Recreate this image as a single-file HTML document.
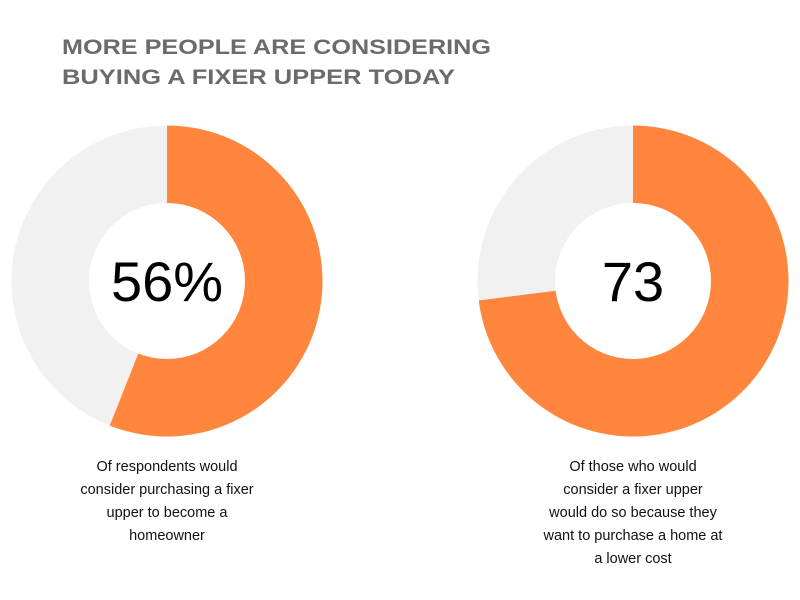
<!DOCTYPE html>
<html><head><meta charset="utf-8"><style>
html,body{margin:0;padding:0;background:#fff;}
svg{display:block;font-family:"Liberation Sans",sans-serif;}
</style></head><body>
<svg width="800" height="600" viewBox="0 0 800 600">
<g fill="#6b6b6b" font-weight="bold" font-size="21">
<text x="62" y="54" textLength="429" lengthAdjust="spacingAndGlyphs">MORE PEOPLE ARE CONSIDERING</text>
<text x="62" y="84" textLength="393" lengthAdjust="spacingAndGlyphs">BUYING A FIXER UPPER TODAY</text>
</g>
<g id="donuts"></g>
<g font-size="14.5" fill="#111" text-anchor="middle">
<text x="167" y="471">Of respondents would</text>
<text x="167" y="494">consider purchasing a fixer</text>
<text x="167" y="517">upper to become a</text>
<text x="167" y="540">homeowner</text>
<text x="633" y="471">Of those who would</text>
<text x="633" y="494">consider a fixer upper</text>
<text x="633" y="517">would do so because they</text>
<text x="633" y="540">want to purchase a home at</text>
<text x="633" y="563">a lower cost</text>
</g>
</svg>
<script>
const donutValues = [56, 73];
const donutLabels = ["56%", "73"];
const donutNames = ["respondents-donut", "reasons-donut"];
const centers = [[167, 281], [633, 281]];
const R = 155.5, r = 78;
const ns = "http://www.w3.org/2000/svg";
const g = document.getElementById('donuts');
function pt(cx, cy, rad, frac) {
  const a = frac * 2 * Math.PI;
  return [cx + rad * Math.sin(a), cy - rad * Math.cos(a)];
}
donutValues.forEach((v, i) => {
  const [cx, cy] = centers[i];
  const grp = document.createElementNS(ns, 'g');
  
  
  const bg = document.createElementNS(ns, 'circle');
  bg.setAttribute('cx', cx); bg.setAttribute('cy', cy); bg.setAttribute('r', R);
  bg.setAttribute('fill', '#f1f1f1');
  
  
  grp.appendChild(bg);
  const f = v / 100;
  const [x1, y1] = pt(cx, cy, R, 0), [x2, y2] = pt(cx, cy, R, f);
  const large = f > 0.5 ? 1 : 0;
  const p = document.createElementNS(ns, 'path');
  p.setAttribute('d', `M${cx},${cy} L${x1},${y1} A${R},${R} 0 ${large} 1 ${x2},${y2} Z`);
  p.setAttribute('fill', '#ff863c');
  
  
  grp.appendChild(p);
  const hole = document.createElementNS(ns, 'circle');
  hole.setAttribute('cx', cx); hole.setAttribute('cy', cy); hole.setAttribute('r', r);
  hole.setAttribute('fill', '#fff');
  
  
  grp.appendChild(hole);
  const t = document.createElementNS(ns, 't' + 'ext');
  t.setAttribute('x', cx); t.setAttribute('y', cy + 20);
  t.setAttribute('text-anchor', 'middle');
  t.setAttribute('font-size', '56');
  t.setAttribute('fill', '#000');
  
  
  t.textContent = donutLabels[i];
  grp.appendChild(t);
  g.appendChild(grp);
});
</script>
</body></html>
